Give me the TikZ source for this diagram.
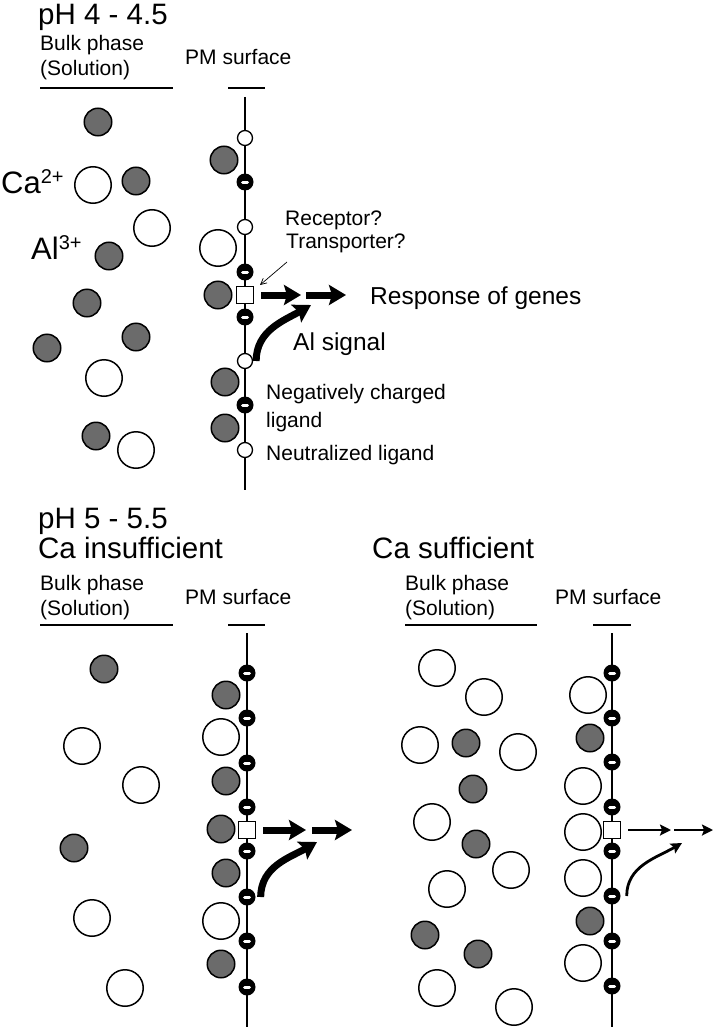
\documentclass[tikz,border=0pt]{standalone}
\usepackage{fontspec}
\setmainfont{Liberation Sans}
\usetikzlibrary{arrows.meta}
\definecolor{algray}{HTML}{6B6B6B}

\tikzset{
	alion/.style={circle, draw, line width=1.5pt, fill=algray, minimum size=27.5pt, inner sep=0pt},
	caion/.style={circle, draw, line width=1.5pt, fill=white, minimum size=36.5pt, inner sep=0pt},
	negl/.style={circle, fill=black, minimum size=17pt, inner sep=0pt,
		path picture={\draw[white, line width=3pt, line cap=round] ([xshift=-2.5pt]path picture bounding box.center) -- ([xshift=2.5pt]path picture bounding box.center);}},
	neutl/.style={circle, draw, line width=1.3pt, fill=white, minimum size=15pt, inner sep=0pt},
	receptor/.style={rectangle, draw, line width=1.3pt, fill=white, minimum size=17pt, inner sep=0pt},
	memb/.style={line width=1.5pt},
	bar/.style={line width=1.8pt},
	sig/.style={line width=7pt, -{Stealth[length=17pt, width=20pt, inset=3pt]}},
	sigthin/.style={line width=2.8pt, -{Stealth[length=11pt, width=11pt, inset=2pt]}},
	callout/.style={line width=0.7pt, -{Straight Barb[length=6pt, width=6pt]}},
	lbl/.style={anchor=base west, inner sep=0pt, font=\fontsize{21}{23}\selectfont},
	big/.style={anchor=base west, inner sep=0pt, font=\fontsize{24.5}{27}\selectfont},
	ttl/.style={anchor=base west, inner sep=0pt, font=\fontsize{29.5}{32}\selectfont},
	ion/.style={anchor=base west, inner sep=0pt, font=\fontsize{31}{33}\selectfont}
}

\begin{document}
\begin{tikzpicture}[x=1pt, y=-1pt]
	\useasboundingbox (0,0) rectangle (717,1030);

	% pH 4 - 4.5
	\node[ttl] (ph1) at (38,25) {pH 4 - 4.5};
	\node[lbl] (bulk1) at (40,51) {Bulk phase};
	\node[lbl] (sol1) at (40,76) {(Solution)};
	\node[lbl] (pm1) at (185,65) {PM surface};
	\draw[bar] (40,88) -- (173,88);
	\draw[bar] (228,88) -- (265,88);
	\draw[memb] (245,97) -- (245,490);

	\node[ion] (ca) at (1,193) {Ca\raisebox{10pt}{\fontsize{20}{20}\selectfont 2+}};
	\node[ion] (al) at (31,259) {Al\raisebox{10pt}{\fontsize{20}{20}\selectfont 3+}};

	\foreach \x/\y [count=\i] in {98/122, 136/181, 109/256, 87/303, 136/337, 47/348, 96/436, 224/160, 218/295, 225/382, 225/428}
		\node[alion] (al1-\i) at (\x,\y) {};
	\foreach \x/\y [count=\i] in {93/185, 152/228, 104/378, 136/450, 218/248}
		\node[caion] (ca1-\i) at (\x,\y) {};
	\foreach \y [count=\i] in {138, 227, 361, 450}
		\node[neutl] (nt1-\i) at (245,\y) {};
	\foreach \y [count=\i] in {182, 272, 317, 405}
		\node[negl] (ng1-\i) at (245,\y) {};
	\node[receptor] (rec1) at (245,295) {};

	\coordinate (a1) at (301,295);
	\coordinate (a2) at (306,295);
	\coordinate (a3) at (346,295);
	\coordinate (c1) at (311,305);
	\draw[sig] ([xshift=7pt]rec1.east) -- (a1);
	\draw[sig] (a2) -- (a3);
	\draw[sig] ([xshift=3pt]nt1-3.east) to[out=90, in=210] (c1);

	\node[big] (resp) at (370,304) {Response of genes};
	\node[big] (sgnl) at (293,350) {Al signal};
	\node[lbl] (recq) at (285,225) {Receptor?};
	\node[lbl] (trans) at (286,248) {Transporter?};
	\coordinate (rtail) at (287,262);
	\coordinate (rtip) at (260,285);
	\draw[callout] (rtail) -- (rtip);
	\node[lbl] (negq) at (266,399) {Negatively charged};
	\node[lbl] (lig) at (266,427) {ligand};
	\node[lbl] (neut) at (266,460) {Neutralized ligand};

	% pH 5 - 5.5, Ca insufficient
	\node[ttl] (ph2) at (38,528) {pH 5 - 5.5};
	\node[ttl] (cains) at (38,558) {Ca insufficient};
	\node[lbl] (bulk2) at (40,590) {Bulk phase};
	\node[lbl] (sol2) at (40,615) {(Solution)};
	\node[lbl] (pm2) at (185,604) {PM surface};
	\draw[bar] (40,625) -- (173,625);
	\draw[bar] (228,625) -- (265,625);
	\draw[memb] (247,633) -- (247,1027);

	\foreach \x/\y [count=\i] in {104/669, 74/848, 226/695, 226/781, 221/829, 226/873, 221/964}
		\node[alion] (al2-\i) at (\x,\y) {};
	\foreach \x/\y [count=\i] in {82/746, 141/785, 92/918, 125/988, 221/737, 221/921}
		\node[caion] (ca2-\i) at (\x,\y) {};
	\foreach \y [count=\i] in {673, 718, 763, 807, 851, 897, 941, 987}
		\node[negl] (ng2-\i) at (247,\y) {};
	\node[receptor] (rec2) at (247,830) {};

	\coordinate (b1) at (306,830);
	\coordinate (b2) at (312,830);
	\coordinate (b3) at (352,830);
	\coordinate (d1) at (317,842);
	\draw[sig] ([xshift=7pt]rec2.east) -- (b1);
	\draw[sig] (b2) -- (b3);
	\draw[sig] ([xshift=5pt]ng2-6.east) to[out=90, in=210] (d1);

	% Ca sufficient
	\node[ttl] (casuf) at (372,558) {Ca sufficient};
	\node[lbl] (bulk3) at (405,590) {Bulk phase};
	\node[lbl] (sol3) at (405,615) {(Solution)};
	\node[lbl] (pm3) at (555,604) {PM surface};
	\draw[bar] (405,625) -- (537,625);
	\draw[bar] (593,625) -- (631,625);
	\draw[memb] (612,633) -- (612,1027);

	\foreach \x/\y [count=\i] in {466/743, 473/789, 476/844, 425/935, 478/954, 590/738, 590/921}
		\node[alion] (al3-\i) at (\x,\y) {};
	\foreach \x/\y [count=\i] in {437/668, 484/697, 420/745, 518/752, 432/822, 511/870, 447/889, 437/988, 514/1007, 588/695, 583/786, 583/832, 583/878, 583/963}
		\node[caion] (ca3-\i) at (\x,\y) {};
	\foreach \y [count=\i] in {673, 718, 762, 807, 851, 896, 941, 986}
		\node[negl] (ng3-\i) at (612,\y) {};
	\node[receptor] (rec3) at (612,830) {};

	\coordinate (e1) at (671,830);
	\coordinate (e2) at (674,830);
	\coordinate (e3) at (713,830);
	\coordinate (f1) at (682,843);
	\draw[sigthin] ([xshift=7pt]rec3.east) -- (e1);
	\draw[sigthin] (e2) -- (e3);
	\draw[sigthin] ([xshift=6pt]ng3-6.east) to[out=90, in=210] (f1);
\end{tikzpicture}
\end{document}
